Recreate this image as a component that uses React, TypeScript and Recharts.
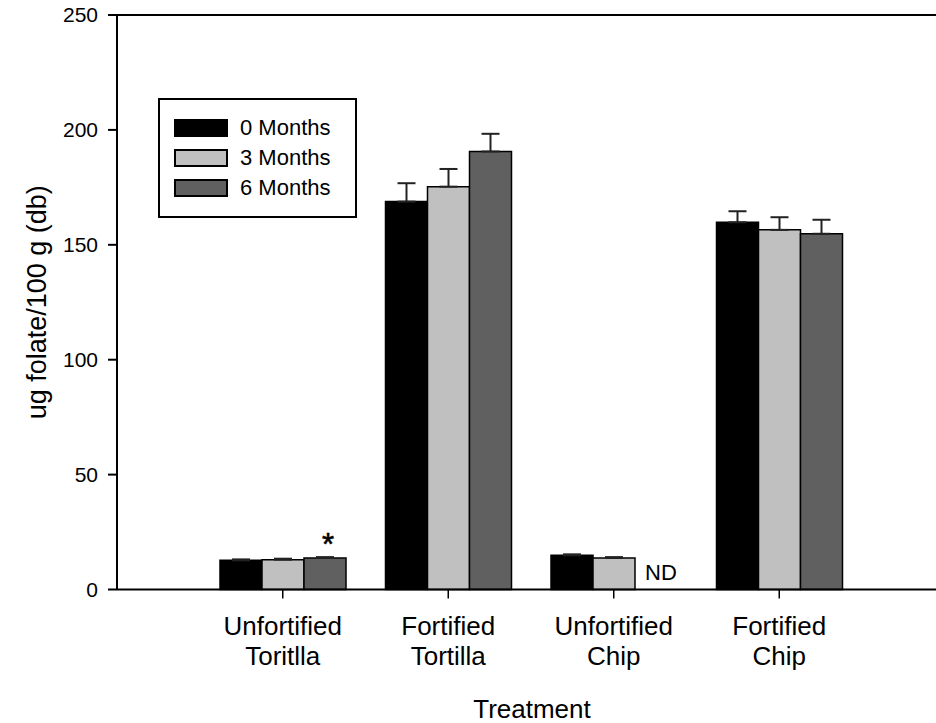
import React from 'react';
import { BarChart, Bar, XAxis, YAxis, ErrorBar, LabelList, Legend, ReferenceLine, Label } from 'recharts';

const FONT = '"Liberation Sans", Arial, Helvetica, sans-serif';

const categories = ['Unfortified\nToritlla', 'Fortified\nTortilla', 'Unfortified\nChip', 'Fortified\nChip'];
const seriesNames = ['0 Months', '3 Months', '6 Months'];
const seriesColors = ['#000000', '#c0c0c0', '#606060'];
const months0 = [12.7, 168.8, 14.9, 159.8];
const months3 = [13.0, 175.3, 13.7, 156.5];
const months6 = [13.7, 190.6, null, 154.8];
const err0 = [0.4, 8.0, 0.4, 4.8];
const err3 = [0.4, 7.7, 0.4, 5.5];
const err6 = [0.4, 7.7, null, 6.1];
const significance6 = ['*', '', '', ''];
const notDetected6 = ['', '', 'ND', ''];
const yTicks = [0, 50, 100, 150, 200, 250];

const data = categories.map((name, i) => ({
  name,
  m0: months0[i],
  m3: months3[i],
  m6: months6[i],
  e0: [0, err0[i]],
  e3: [0, err3[i]],
  e6: err6[i] == null ? null : [0, err6[i]],
  sig6: significance6[i],
  nd6: notDetected6[i],
}));

const PAD_L = 83;
const PAD_R = 74;

const CatTick = (props: any) => {
  const { x, y, payload } = props;
  const lines = String(payload.value).split('\n');
  return (
    <text x={x} y={y} textAnchor="middle" fontFamily={FONT} fontSize={26} fill="#000">
      {lines.map((l, i) => (
        <tspan key={i} x={x} dy={i === 0 ? 36.5 : 30}>{l}</tspan>
      ))}
    </text>
  );
};

const SigLabel = (props: any) => {
  const { x, y, width, value } = props;
  if (!value) return null;
  const cx = Number(x) + Number(width) / 2;
  return (
    <text x={cx + 3} y={Number(y) - 3} textAnchor="middle" fontFamily={FONT} fontSize={31} fill="#000" stroke="#000" strokeWidth={0.6}>{value}</text>
  );
};

// "ND" sits in the (empty) 6-month slot, i.e. one bar width to the right of the 3-month bar
const NdLabel = (props: any) => {
  const { x, y, width, height, value } = props;
  if (!value) return null;
  const cx = Number(x) + Number(width) * 1.5;
  const bottom = Number(y) + Number(height || 0);
  return (
    <text x={cx + 5} y={bottom - 9.5} textAnchor="middle" fontFamily={FONT} fontSize={22} fill="#000">{value}</text>
  );
};

const LegendBox = (props: any) => {
  const payload = props.payload || [];
  return (
    <div style={{ width: 199, height: 120, boxSizing: 'border-box', border: '2px solid #000', background: '#fff', paddingTop: 13, paddingLeft: 14, fontFamily: FONT }}>
      {payload.map((p: any, i: number) => (
        <div key={i} style={{ display: 'flex', alignItems: 'center', height: 30 }}>
          <div style={{ width: 54, height: 18, background: p.color, border: '2px solid #000', boxSizing: 'border-box' }} />
          <span style={{ marginLeft: 12, fontSize: 22, color: '#000', lineHeight: '30px' }}>{p.value}</span>
        </div>
      ))}
    </div>
  );
};

export default function App() {
  return (
    <div style={{ position: 'absolute', left: 0, top: 0, width: 936, height: 723, background: '#fff' }}>
      <BarChart
        width={936}
        height={723}
        data={data}
        margin={{ top: 15, right: 0, bottom: 0, left: 0 }}
        barGap={0}
        barSize={42}
      >
        <XAxis
          dataKey="name"
          height={133.5}
          padding={{ left: PAD_L, right: PAD_R }}
          axisLine={{ stroke: '#000', strokeWidth: 2 }}
          tickLine={{ stroke: '#000', strokeWidth: 1.5 }}
          tickSize={9}
          tickMargin={0}
          tick={<CatTick />}
          interval={0}
        >
          <Label
            content={(p: any) => {
              const vb = p.viewBox || {};
              const cx = vb.x + PAD_L + (vb.width - PAD_L - PAD_R) / 2;
              return (
                <text x={cx + 1} y={vb.y + 128} textAnchor="middle" fontFamily={FONT} fontSize={26} fill="#000">Treatment</text>
              );
            }}
          />
        </XAxis>
        <YAxis
          width={117}
          domain={[0, 250]}
          ticks={yTicks}
          interval={0}
          axisLine={{ stroke: '#000', strokeWidth: 2 }}
          tickLine={{ stroke: '#000', strokeWidth: 2 }}
          tickSize={9}
          tickMargin={10}
          tick={{ fontFamily: FONT, fontSize: 21, fill: '#000' }}
        >
          <Label
            content={(p: any) => {
              const vb = p.viewBox || {};
              const cx = vb.x + 37;
              const cy = vb.y + vb.height / 2;
              return (
                <text x={cx} y={cy} transform={`rotate(-90 ${cx} ${cy})`} textAnchor="middle" dominantBaseline="central" fontFamily={FONT} fontSize={27} fill="#000">ug folate/100 g (db)</text>
              );
            }}
          />
        </YAxis>
        <ReferenceLine y={250} stroke="#000" strokeWidth={2} />
        <Legend
          layout="vertical"
          align="center"
          verticalAlign="middle"
          content={<LegendBox />}
          wrapperStyle={{ left: 158, top: 98, width: 199, height: 120 }}
        />
        <Bar dataKey="m0" name={seriesNames[0]} fill={seriesColors[0]} stroke="#000" strokeWidth={1.5} isAnimationActive={false}>
          <ErrorBar dataKey="e0" width={9} stroke="#222" strokeWidth={2} direction="y" />
        </Bar>
        <Bar dataKey="m3" name={seriesNames[1]} fill={seriesColors[1]} stroke="#000" strokeWidth={1.5} isAnimationActive={false}>
          <ErrorBar dataKey="e3" width={9} stroke="#222" strokeWidth={2} direction="y" />
          <LabelList dataKey="nd6" content={<NdLabel />} />
        </Bar>
        <Bar dataKey="m6" name={seriesNames[2]} fill={seriesColors[2]} stroke="#000" strokeWidth={1.5} isAnimationActive={false}>
          <ErrorBar dataKey="e6" width={9} stroke="#222" strokeWidth={2} direction="y" />
          <LabelList dataKey="sig6" content={<SigLabel />} />
        </Bar>
      </BarChart>
    </div>
  );
}
